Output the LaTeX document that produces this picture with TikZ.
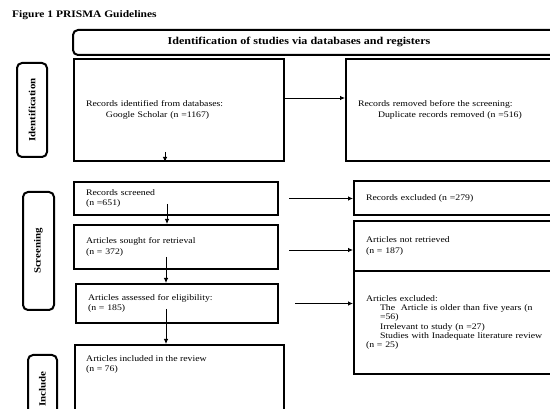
\documentclass[tikz,border=0pt]{standalone}
\usepackage{fontspec}
\setmainfont{Liberation Serif}[FakeStretch=1.15]
\usetikzlibrary{arrows.meta}
\tikzset{
  box/.style={draw, line width=2pt, anchor=north west, inner xsep=12pt, inner ysep=0pt,
    align=left, font=\fontsize{8.5}{10.5}\selectfont},
  hdrbox/.style={draw, line width=2pt, rounded corners=5pt, anchor=north west, inner sep=0pt},
  lab/.style={draw, line width=2pt, rounded corners=5pt, inner sep=0pt, rotate=90,
    font=\bfseries\fontsize{9.5}{11}\selectfont},
  arr/.style={-{Latex[length=5pt,width=4.5pt]}, line width=0.8pt},
}
\begin{document}
\begin{tikzpicture}[x=1pt,y=-1pt]
\useasboundingbox (0,0) rectangle (550,409);
% title and header
\node[anchor=west, inner sep=0pt, font=\bfseries\fontsize{10}{12}\selectfont] (title) at (12,15) {Figure 1 PRISMA Guidelines};
\node[hdrbox, minimum width=520pt, minimum height=25pt] (hdr) at (72,29) {};
\node[inner sep=0pt, font=\bfseries\fontsize{10.5}{12}\selectfont] (hdrtext) at (299,41.5) {Identification of studies via databases and registers};
% side labels
\node[lab, minimum width=94pt, minimum height=30pt] (labid) at (32,110) {Identification};
\node[lab, minimum width=118pt, minimum height=31pt] (labsc) at (38.5,251) {Screening};
\node[lab, minimum width=68pt, minimum height=29pt] (labin) at (42.5,389) {Include};
% left column
\node[box, text width=186pt, minimum height=102pt] (ident) at (73,58)
  {Records identified from databases:\\\hspace*{20pt}Google Scholar (n =1167)};
\node[box, text width=180pt, minimum height=33pt] (screened) at (73,181)
  {Records screened\\(n =651)};
\node[box, text width=180pt, minimum height=44pt] (sought) at (73,224)
  {Articles sought for retrieval\\(n = 372)};
\node[box, text width=178pt, minimum height=39pt] (assessed) at (75,283)
  {Articles assessed for eligibility:\\(n = 185)};
\node[box, text width=185pt, minimum height=90pt] (included) at (74,344) {};
\node[anchor=base west, inner sep=0pt, align=left, font=\fontsize{8.5}{10.5}\selectfont] (inctext) at (86,372)
  {Articles included in the review\\(n = 76)};
% right column
\node[box, text width=226pt, minimum height=102pt] (removed) at (345,58)
  {Records removed before the screening:\\\hspace*{20pt}Duplicate records removed (n =516)};
\node[box, text width=226pt, minimum height=34pt] (excl1) at (353,180)
  {Records excluded (n =279)};
\node[box, text width=226pt, minimum height=50pt] (notret) at (353,220)
  {Articles not retrieved\\(n = 187)};
\node[box, text width=226pt, minimum height=103pt, font=\fontsize{8.5}{9.2}\selectfont] (excl2) at (353,270)
  {Articles excluded:\\
   \hspace*{14pt}The\ \ Article is older than five years (n\\
   \hspace*{14pt}=56)\\
   \hspace*{14pt}Irrelevant to study (n =27)\\
   \hspace*{14pt}Studies with Inadequate literature review\\
   (n = 25)};
% vertical arrows
\draw[arr] ([xshift=-14pt,yshift=10pt]ident.south) coordinate (v0) -- (v0 |- ident.south);
\draw[arr] ([xshift=-9pt,yshift=12pt]screened.south) coordinate (v1) -- (v1 |- sought.north);
\draw[arr] ([xshift=-10pt,yshift=13pt]sought.south) coordinate (v2) -- (v2 |- assessed.north);
\draw[arr] ([xshift=-11pt,yshift=15pt]assessed.south) coordinate (v3) -- (v3 |- included.north);
% horizontal arrows
\draw[arr] ([yshift=12pt]ident.east) coordinate (h0) -- (h0 -| removed.west);
\draw[arr, shorten <=10pt] (screened.east) -- (screened.east -| excl1.west);
\draw[arr, shorten <=10pt] ([yshift=-3pt]sought.east) coordinate (h2) -- (h2 -| notret.west);
\draw[arr, shorten <=16pt] (assessed.east) -- (assessed.east -| excl2.west);
\end{tikzpicture}
\end{document}
